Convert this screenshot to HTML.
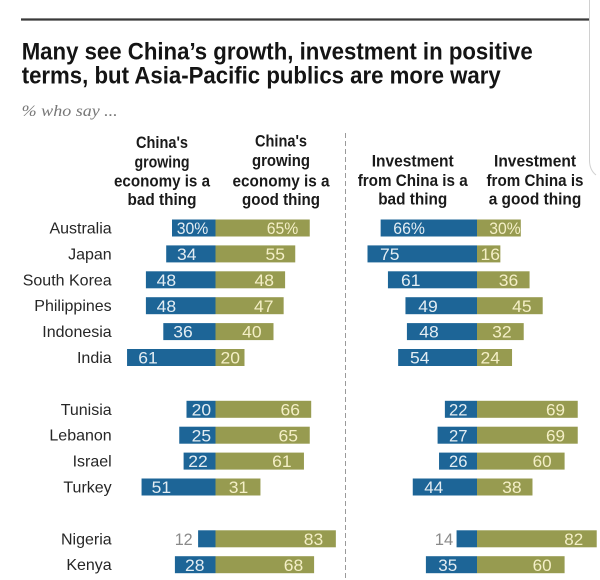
<!DOCTYPE html>
<html>
<head>
<meta charset="utf-8">
<style>
html,body{margin:0;padding:0;background:#fff;}
svg{display:block;}
.t{font-family:"Liberation Sans",sans-serif;font-weight:bold;fill:#141414;font-size:24px;}
.h{font-family:"Liberation Sans",sans-serif;font-weight:bold;fill:#1a1a1a;font-size:16.5px;text-anchor:middle;}
.c{font-family:"Liberation Sans",sans-serif;fill:#262626;font-size:16px;text-anchor:end;}
.vb{font-family:"Liberation Sans",sans-serif;fill:#e3edf3;font-size:17px;}
.vg{font-family:"Liberation Sans",sans-serif;fill:#f4efc6;font-size:17px;text-anchor:end;}
.vx{font-family:"Liberation Sans",sans-serif;fill:#8a8a8a;font-size:17px;text-anchor:end;}
.b{fill:#1d6597;}
.g{fill:#979b50;}
</style>
</head>
<body>
<svg width="600" height="580" viewBox="0 0 600 580" xmlns="http://www.w3.org/2000/svg">
<rect width="600" height="580" fill="#fff"/>
<!-- frame -->
<path d="M589.5 0 V160 Q589.5 170 596 175" stroke="#d0d0d0" stroke-width="1" fill="none"/>
<line x1="21" y1="19.5" x2="589" y2="19.5" stroke="#3a3a3a" stroke-width="2.2"/>
<!-- title -->
<text class="t" x="21.7" y="59.3" textLength="511" lengthAdjust="spacingAndGlyphs">Many see China’s growth, investment in positive</text>
<text class="t" x="21.7" y="83.3" textLength="479" lengthAdjust="spacingAndGlyphs">terms, but Asia-Pacific publics are more wary</text>
<text x="21.7" y="116" font-family="'Liberation Serif',serif" font-style="italic" font-size="16" fill="#777" textLength="96" lengthAdjust="spacingAndGlyphs">% who say ...</text>
<!-- headers -->
<text class="h" x="162" y="148" textLength="52" lengthAdjust="spacingAndGlyphs">China's</text>
<text class="h" x="162" y="167.5" textLength="55" lengthAdjust="spacingAndGlyphs">growing</text>
<text class="h" x="162" y="186.5" textLength="96" lengthAdjust="spacingAndGlyphs">economy is a</text>
<text class="h" x="162" y="205" textLength="69" lengthAdjust="spacingAndGlyphs">bad thing</text>

<text class="h" x="281" y="146.5" textLength="52" lengthAdjust="spacingAndGlyphs">China's</text>
<text class="h" x="281" y="166" textLength="58" lengthAdjust="spacingAndGlyphs">growing</text>
<text class="h" x="281" y="186.5" textLength="97" lengthAdjust="spacingAndGlyphs">economy is a</text>
<text class="h" x="281" y="205" textLength="78" lengthAdjust="spacingAndGlyphs">good thing</text>

<text class="h" x="412.7" y="166.5" textLength="82" lengthAdjust="spacingAndGlyphs">Investment</text>
<text class="h" x="412.7" y="186" textLength="110" lengthAdjust="spacingAndGlyphs">from China is a</text>
<text class="h" x="412.7" y="204.5" textLength="69" lengthAdjust="spacingAndGlyphs">bad thing</text>

<text class="h" x="535" y="166.5" textLength="82" lengthAdjust="spacingAndGlyphs">Investment</text>
<text class="h" x="535" y="186" textLength="97" lengthAdjust="spacingAndGlyphs">from China is</text>
<text class="h" x="535" y="204.5" textLength="92.6" lengthAdjust="spacingAndGlyphs">a good thing</text>

<!-- divider -->
<line x1="345.5" y1="133" x2="345.5" y2="580" stroke="#9a9a9a" stroke-width="1" stroke-dasharray="5 3"/>

<!-- country labels -->
<text class="c" x="111.7" y="233.5">Australia</text>
<text class="c" x="111.7" y="259.4">Japan</text>
<text class="c" x="111.7" y="285.3">South Korea</text>
<text class="c" x="111.7" y="311.2">Philippines</text>
<text class="c" x="111.7" y="337.1">Indonesia</text>
<text class="c" x="111.7" y="363">India</text>
<text class="c" x="111.7" y="414.8">Tunisia</text>
<text class="c" x="111.7" y="440.7">Lebanon</text>
<text class="c" x="111.7" y="466.6">Israel</text>
<text class="c" x="111.7" y="492.5">Turkey</text>
<text class="c" x="111.7" y="544.3">Nigeria</text>
<text class="c" x="111.7" y="570.2">Kenya</text>

<!-- LEFT bars -->
<g>
<rect class="b" x="172" y="219.5" width="43.5" height="17"/><rect class="g" x="215.5" y="219.5" width="94.25" height="17"/>
<rect class="b" x="166.2" y="245.4" width="49.3" height="17"/><rect class="g" x="215.5" y="245.4" width="79.75" height="17"/>
<rect class="b" x="145.9" y="271.3" width="69.6" height="17"/><rect class="g" x="215.5" y="271.3" width="69.6" height="17"/>
<rect class="b" x="145.9" y="297.2" width="69.6" height="17"/><rect class="g" x="215.5" y="297.2" width="68.15" height="17"/>
<rect class="b" x="163.3" y="323.1" width="52.2" height="17"/><rect class="g" x="215.5" y="323.1" width="58" height="17"/>
<rect class="b" x="127.05" y="349" width="88.45" height="17"/><rect class="g" x="215.5" y="349" width="29" height="17"/>
<rect class="b" x="186.5" y="400.8" width="29" height="17"/><rect class="g" x="215.5" y="400.8" width="95.7" height="17"/>
<rect class="b" x="179.25" y="426.7" width="36.25" height="17"/><rect class="g" x="215.5" y="426.7" width="94.25" height="17"/>
<rect class="b" x="183.6" y="452.6" width="31.9" height="17"/><rect class="g" x="215.5" y="452.6" width="88.45" height="17"/>
<rect class="b" x="141.55" y="478.5" width="73.95" height="17"/><rect class="g" x="215.5" y="478.5" width="44.95" height="17"/>
<rect class="b" x="198.1" y="530.3" width="17.4" height="17"/><rect class="g" x="215.5" y="530.3" width="120.35" height="17"/>
<rect class="b" x="174.9" y="556.2" width="40.6" height="17"/><rect class="g" x="215.5" y="556.2" width="98.6" height="17"/>
</g>
<!-- LEFT values -->
<g>
<text class="vb" x="176.7" y="234.1" textLength="31.6" lengthAdjust="spacingAndGlyphs">30%</text>
<text class="vg" x="298.3" y="234.1" textLength="31.6" lengthAdjust="spacingAndGlyphs">65%</text>
<text class="vb" x="177" y="260" textLength="19.5" lengthAdjust="spacingAndGlyphs">34</text>
<text class="vg" x="285" y="260" textLength="19.5" lengthAdjust="spacingAndGlyphs">55</text>
<text class="vb" x="156.7" y="285.9" textLength="19.5" lengthAdjust="spacingAndGlyphs">48</text>
<text class="vg" x="274" y="285.9" textLength="19.5" lengthAdjust="spacingAndGlyphs">48</text>
<text class="vb" x="156.7" y="311.8" textLength="19.5" lengthAdjust="spacingAndGlyphs">48</text>
<text class="vg" x="273.5" y="311.8" textLength="19.5" lengthAdjust="spacingAndGlyphs">47</text>
<text class="vb" x="173.3" y="337.7" textLength="19.5" lengthAdjust="spacingAndGlyphs">36</text>
<text class="vg" x="261.7" y="337.7" textLength="19.5" lengthAdjust="spacingAndGlyphs">40</text>
<text class="vb" x="138.3" y="363.6" textLength="19.5" lengthAdjust="spacingAndGlyphs">61</text>
<text class="vg" x="240" y="363.6" textLength="19.5" lengthAdjust="spacingAndGlyphs">20</text>
<text class="vb" x="191.7" y="415.4" textLength="19.5" lengthAdjust="spacingAndGlyphs">20</text>
<text class="vg" x="300" y="415.4" textLength="19.5" lengthAdjust="spacingAndGlyphs">66</text>
<text class="vb" x="191.7" y="441.3" textLength="19.5" lengthAdjust="spacingAndGlyphs">25</text>
<text class="vg" x="298" y="441.3" textLength="19.5" lengthAdjust="spacingAndGlyphs">65</text>
<text class="vb" x="188.3" y="467.2" textLength="19.5" lengthAdjust="spacingAndGlyphs">22</text>
<text class="vg" x="291.7" y="467.2" textLength="19.5" lengthAdjust="spacingAndGlyphs">61</text>
<text class="vb" x="151.7" y="493.1" textLength="19.5" lengthAdjust="spacingAndGlyphs">51</text>
<text class="vg" x="248.3" y="493.1" textLength="19.5" lengthAdjust="spacingAndGlyphs">31</text>
<text class="vx" x="192.7" y="544.9" textLength="18" lengthAdjust="spacingAndGlyphs">12</text>
<text class="vg" x="323.3" y="544.9" textLength="19.5" lengthAdjust="spacingAndGlyphs">83</text>
<text class="vb" x="185" y="570.8" textLength="19.5" lengthAdjust="spacingAndGlyphs">28</text>
<text class="vg" x="303.3" y="570.8" textLength="19.5" lengthAdjust="spacingAndGlyphs">68</text>
</g>

<!-- RIGHT bars -->
<g>
<rect class="b" x="380.64" y="219.5" width="96.36" height="17"/><rect class="g" x="477" y="219.5" width="43.8" height="17"/>
<rect class="b" x="367.5" y="245.4" width="109.5" height="17"/><rect class="g" x="477" y="245.4" width="23.36" height="17"/>
<rect class="b" x="387.94" y="271.3" width="89.06" height="17"/><rect class="g" x="477" y="271.3" width="52.56" height="17"/>
<rect class="b" x="405.46" y="297.2" width="71.54" height="17"/><rect class="g" x="477" y="297.2" width="65.7" height="17"/>
<rect class="b" x="406.92" y="323.1" width="70.08" height="17"/><rect class="g" x="477" y="323.1" width="46.72" height="17"/>
<rect class="b" x="398.16" y="349" width="78.84" height="17"/><rect class="g" x="477" y="349" width="35.04" height="17"/>
<rect class="b" x="444.88" y="400.8" width="32.12" height="17"/><rect class="g" x="477" y="400.8" width="100.74" height="17"/>
<rect class="b" x="437.58" y="426.7" width="39.42" height="17"/><rect class="g" x="477" y="426.7" width="100.74" height="17"/>
<rect class="b" x="439.04" y="452.6" width="37.96" height="17"/><rect class="g" x="477" y="452.6" width="87.6" height="17"/>
<rect class="b" x="412.76" y="478.5" width="64.24" height="17"/><rect class="g" x="477" y="478.5" width="55.48" height="17"/>
<rect class="b" x="456.56" y="530.3" width="20.44" height="17"/><rect class="g" x="477" y="530.3" width="119.72" height="17"/>
<rect class="b" x="425.9" y="556.2" width="51.1" height="17"/><rect class="g" x="477" y="556.2" width="87.6" height="17"/>
</g>
<!-- RIGHT values -->
<g>
<text class="vb" x="393.3" y="234.1" textLength="31.6" lengthAdjust="spacingAndGlyphs">66%</text>
<text class="vg" x="520.7" y="234.1" textLength="31.4" lengthAdjust="spacingAndGlyphs">30%</text>
<text class="vb" x="380" y="260" textLength="19.5" lengthAdjust="spacingAndGlyphs">75</text>
<text class="vg" x="500" y="260" textLength="19.5" lengthAdjust="spacingAndGlyphs">16</text>
<text class="vb" x="401" y="285.9" textLength="19.5" lengthAdjust="spacingAndGlyphs">61</text>
<text class="vg" x="518.3" y="285.9" textLength="19.5" lengthAdjust="spacingAndGlyphs">36</text>
<text class="vb" x="418.3" y="311.8" textLength="19.5" lengthAdjust="spacingAndGlyphs">49</text>
<text class="vg" x="531.7" y="311.8" textLength="19.5" lengthAdjust="spacingAndGlyphs">45</text>
<text class="vb" x="419.3" y="337.7" textLength="19.5" lengthAdjust="spacingAndGlyphs">48</text>
<text class="vg" x="511.7" y="337.7" textLength="19.5" lengthAdjust="spacingAndGlyphs">32</text>
<text class="vb" x="410" y="363.6" textLength="19.5" lengthAdjust="spacingAndGlyphs">54</text>
<text class="vg" x="500" y="363.6" textLength="19.5" lengthAdjust="spacingAndGlyphs">24</text>
<text class="vb" x="449" y="415.4" textLength="18.5" lengthAdjust="spacingAndGlyphs">22</text>
<text class="vg" x="565" y="415.4" textLength="19" lengthAdjust="spacingAndGlyphs">69</text>
<text class="vb" x="449" y="441.3" textLength="18.5" lengthAdjust="spacingAndGlyphs">27</text>
<text class="vg" x="565" y="441.3" textLength="19" lengthAdjust="spacingAndGlyphs">69</text>
<text class="vb" x="449" y="467.2" textLength="18.5" lengthAdjust="spacingAndGlyphs">26</text>
<text class="vg" x="551.7" y="467.2" textLength="19" lengthAdjust="spacingAndGlyphs">60</text>
<text class="vb" x="424.3" y="493.1" textLength="19" lengthAdjust="spacingAndGlyphs">44</text>
<text class="vg" x="521.7" y="493.1" textLength="19.5" lengthAdjust="spacingAndGlyphs">38</text>
<text class="vx" x="453.3" y="544.9" textLength="18.5" lengthAdjust="spacingAndGlyphs">14</text>
<text class="vg" x="583.3" y="544.9" textLength="19" lengthAdjust="spacingAndGlyphs">82</text>
<text class="vb" x="438.3" y="570.8" textLength="19" lengthAdjust="spacingAndGlyphs">35</text>
<text class="vg" x="551.7" y="570.8" textLength="19" lengthAdjust="spacingAndGlyphs">60</text>
</g>
</svg>
</body>
</html>
